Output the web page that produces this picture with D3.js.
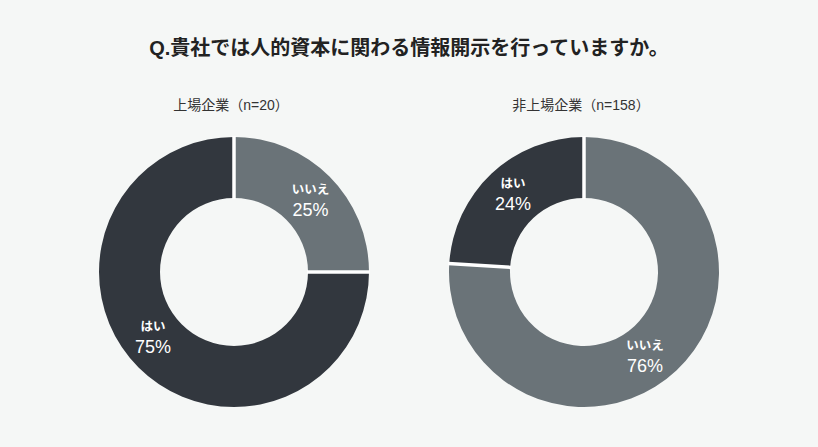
<!DOCTYPE html>
<html>
<head>
<meta charset="utf-8">
<script src="https://cdn.jsdelivr.net/npm/d3@7"></script>
<style>
  html, body { margin: 0; padding: 0; background: #f5f7f6; }
  svg { display: block; font-family: "Liberation Sans", "Noto Sans CJK JP", sans-serif; }
</style>
</head>
<body>
<svg width="818" height="447"></svg>
<script>
var title = "Q.貴社では人的資本に関わる情報開示を行っていますか。";
var groups = ["上場企業（n=20）", "非上場企業（n=158）"];
var answers = ["いいえ", "はい"];
var listed = [25, 75];
var unlisted = [76, 24];

var svg = d3.select("svg"),
    width = +svg.attr("width"),
    height = +svg.attr("height");

svg.append("rect").attr("width", width).attr("height", height).attr("fill", "#f5f7f6");

var color = d3.scaleOrdinal()
    .domain(answers)
    .range(["#6a7378", "#32373e"]);

var x = d3.scalePoint()
    .domain(groups)
    .range([234, 584]);

var outer = 135, inner = 74, cy = 272;

var pie = d3.pie().sort(null).value(function (d) { return d.value; });
var arc = d3.arc().innerRadius(inner).outerRadius(outer);

svg.append("text")
    .attr("x", width / 2)
    .attr("y", 55)
    .attr("text-anchor", "middle")
    .attr("fill", "#222")
    .style("font-size", "20px")
    .style("font-weight", "bold")
    .text(title);

[listed, unlisted].forEach(function (vals, i) {
    var data = answers.map(function (a, j) { return { name: a, value: vals[j] }; });
    var g = svg.append("g")
        .attr("transform", "translate(" + x(groups[i]) + "," + cy + ")");

    svg.append("text")
        .attr("x", x(groups[i]) - 3)
        .attr("y", 110)
        .attr("text-anchor", "middle")
        .attr("fill", "#333")
        .style("font-size", "14px")
        .text(groups[i]);

    var arcs = pie(data);

    g.selectAll("path")
        .data(arcs)
        .enter().append("path")
        .attr("d", arc)
        .attr("fill", function (d) { return color(d.data.name); });

    // white separators between slices
    g.selectAll("line")
        .data(arcs)
        .enter().append("line")
        .attr("x1", function (d) { return Math.sin(d.startAngle) * (inner - 1); })
        .attr("y1", function (d) { return -Math.cos(d.startAngle) * (inner - 1); })
        .attr("x2", function (d) { return Math.sin(d.startAngle) * (outer + 1); })
        .attr("y2", function (d) { return -Math.cos(d.startAngle) * (outer + 1); })
        .attr("stroke", "#fff")
        .attr("stroke-width", 3.5);

    var lab = g.selectAll("g.lab")
        .data(arcs)
        .enter().append("g")
        .attr("class", "lab")
        .attr("transform", function (d) {
            var big = d.endAngle - d.startAngle > Math.PI;
            var a = (d.startAngle + d.endAngle) / 2 + (big ? 0.12 : 0.02);
            var r = big ? 103 : 106;
            return "translate(" + Math.sin(a) * r + "," + (-Math.cos(a) * r) + ")";
        });

    lab.append("text")
        .attr("y", -5)
        .attr("text-anchor", "middle")
        .attr("fill", "#fff")
        .style("font-size", "12.5px")
        .style("font-weight", "bold")
        .text(function (d) { return d.data.name; });

    lab.append("text")
        .attr("y", 17)
        .attr("text-anchor", "middle")
        .attr("fill", "#fff")
        .style("font-size", "18px")
        .text(function (d) { return d.data.value + "%"; });
});
</script>
</body>
</html>
